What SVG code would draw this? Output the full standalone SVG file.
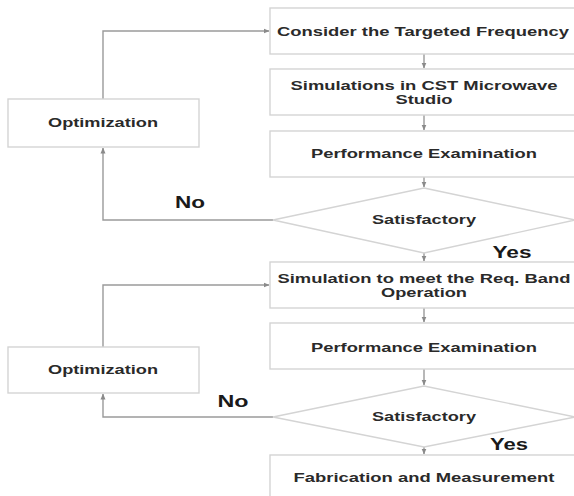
<svg xmlns="http://www.w3.org/2000/svg" width="574" height="496" viewBox="0 0 574 496">
<defs>
<marker id="ah" viewBox="0 0 6 6" refX="5.5" refY="3" markerWidth="6" markerHeight="6" markerUnits="userSpaceOnUse" orient="auto">
<path d="M0,0.5 L6,3 L0,5.5 Z" fill="#8a8a8a"/>
</marker>
</defs>
<style>
.box{fill:#fff;stroke:#d4d4d4;stroke-width:1.4}
.t{font-family:"Liberation Sans",Arial,sans-serif;font-weight:bold;font-size:13px;fill:#2a2a2a;text-anchor:middle}
.lbl{font-family:"Liberation Sans",Arial,sans-serif;font-weight:bold;font-size:16px;fill:#1a1a1a;text-anchor:middle}
.c{fill:none;stroke:#9a9a9a;stroke-width:1.4}
</style>
<rect width="574" height="496" fill="#fff"/>
<g id="connectors">
<path class="c" d="M424,54 L424,68" marker-end="url(#ah)"/>
<path class="c" d="M424,115 L424,130" marker-end="url(#ah)"/>
<path class="c" d="M424,177 L424,187" marker-end="url(#ah)"/>
<path class="c" d="M424,253 L424,261" marker-end="url(#ah)"/>
<path class="c" d="M424,308 L424,322" marker-end="url(#ah)"/>
<path class="c" d="M424,369 L424,385" marker-end="url(#ah)"/>
<path class="c" d="M424,447 L424,454" marker-end="url(#ah)"/>
<path class="c" d="M103,99 L103,31 L269,31" marker-end="url(#ah)"/>
<path class="c" d="M273,220 L103,220 L103,148" marker-end="url(#ah)"/>
<path class="c" d="M103,347 L103,285 L269,285" marker-end="url(#ah)"/>
<path class="c" d="M273,417 L103,417 L103,394" marker-end="url(#ah)"/>
</g>
<g id="n1"><rect class="box" x="270" y="8" width="310" height="46"/><text class="t" x="423" y="35.5" textLength="292" lengthAdjust="spacingAndGlyphs">Consider the Targeted Frequency</text></g>
<g id="n2"><rect class="box" x="270" y="69" width="310" height="46"/><text class="t" x="424" y="89.5" textLength="267" lengthAdjust="spacingAndGlyphs">Simulations in CST Microwave</text><text class="t" x="424" y="103.5" textLength="57" lengthAdjust="spacingAndGlyphs">Studio</text></g>
<g id="n3"><rect class="box" x="270" y="131" width="310" height="46"/><text class="t" x="424" y="157.5" textLength="226" lengthAdjust="spacingAndGlyphs">Performance Examination</text></g>
<g id="d1"><polygon class="box" points="424,188 575,220 424,253 273,220"/><text class="t" x="424" y="223.5" textLength="104" lengthAdjust="spacingAndGlyphs">Satisfactory</text></g>
<g id="o1"><rect class="box" x="8" y="99" width="191" height="48"/><text class="t" x="103" y="126.5" textLength="110" lengthAdjust="spacingAndGlyphs">Optimization</text></g>
<g id="n4"><rect class="box" x="270" y="262" width="310" height="46"/><text class="t" x="424" y="282.5" textLength="293" lengthAdjust="spacingAndGlyphs">Simulation to meet the Req. Band</text><text class="t" x="424" y="296.5" textLength="86" lengthAdjust="spacingAndGlyphs">Operation</text></g>
<g id="n5"><rect class="box" x="270" y="323" width="310" height="46"/><text class="t" x="424" y="351.5" textLength="226" lengthAdjust="spacingAndGlyphs">Performance Examination</text></g>
<g id="d2"><polygon class="box" points="424,386 575,417 424,447 273,417"/><text class="t" x="424" y="420.5" textLength="104" lengthAdjust="spacingAndGlyphs">Satisfactory</text></g>
<g id="o2"><rect class="box" x="8" y="347" width="191" height="46"/><text class="t" x="103" y="373.5" textLength="110" lengthAdjust="spacingAndGlyphs">Optimization</text></g>
<g id="n6"><rect class="box" x="270" y="455" width="310" height="48"/><text class="t" x="424" y="481.5" textLength="261" lengthAdjust="spacingAndGlyphs">Fabrication and Measurement</text></g>
<g id="labels">
<text class="lbl" x="190" y="207.5" textLength="30" lengthAdjust="spacingAndGlyphs">No</text>
<text class="lbl" x="512" y="257.5" textLength="39" lengthAdjust="spacingAndGlyphs">Yes</text>
<text class="lbl" x="233" y="406.5" textLength="31" lengthAdjust="spacingAndGlyphs">No</text>
<text class="lbl" x="509" y="449.5" textLength="38" lengthAdjust="spacingAndGlyphs">Yes</text>
</g>
</svg>
